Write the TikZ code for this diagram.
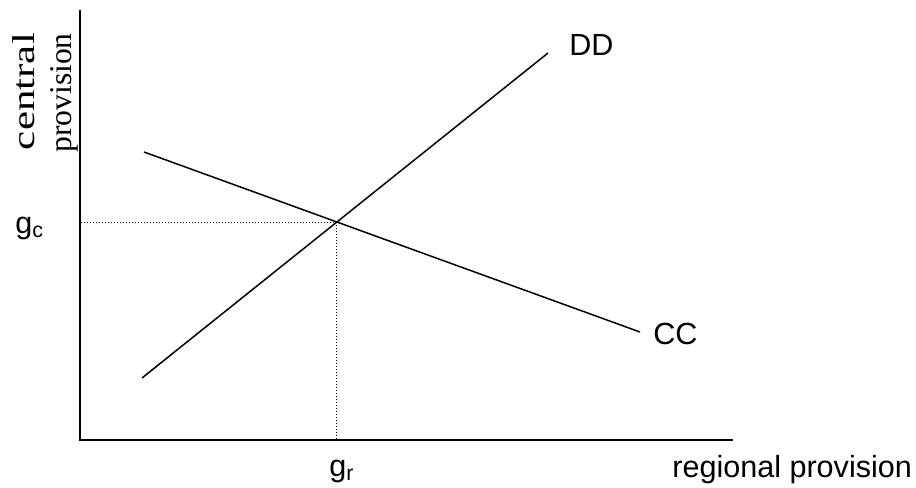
\documentclass[tikz,border=0pt]{standalone}
\usepackage{fontspec}
\setmainfont{Liberation Sans}
\newfontfamily\axisserif{Liberation Serif}
\usetikzlibrary{calc}

\begin{document}
\begin{tikzpicture}[
  x=0.02cm, y=-0.02cm,
  axis/.style={line width=1.1pt},
  curve/.style={line width=0.85pt},
  guide/.style={line width=0.55pt, dash pattern=on 0.02cm off 0.04cm},
  lbl/.style={inner sep=0, font=\fontsize{17.4}{20}\selectfont},
  ylbl/.style={inner sep=0, rotate=90, anchor=base, font=\axisserif\fontsize{18}{21}\selectfont}
]
  \useasboundingbox (0,0) rectangle (916,487);

  % axes
  \coordinate (O) at (80,440);
  \coordinate (ytop) at (80,10);
  \coordinate (xend) at (733,440);
  \draw[axis] (ytop) -- (O) -- (xend);

  % schedules
  \coordinate (dd0) at (142,378);
  \coordinate (dd1) at (548,53);
  \coordinate (cc0) at (144,152);
  \coordinate (cc1) at (640,332);
  \draw[curve] (dd0) -- (dd1);
  \draw[curve] (cc0) -- (cc1);

  % equilibrium
  \coordinate (eq) at (intersection of dd0--dd1 and cc0--cc1);
  \draw[guide] (eq) -- (eq -| O);
  \draw[guide] (eq) -- (eq |- O);

  % labels
  \node[lbl, anchor=base west] (dd) at (569,55) {DD};
  \node[lbl, anchor=base west] (cc) at (653,344) {CC};
  \node[lbl, anchor=base west] (gc) at (15,233) {g\textsubscript{c}};
  \node[lbl, anchor=base west] (gr) at (329,476) {g\textsubscript{r}};
  \node[lbl, anchor=base west] (xlbl) at (672,477) {regional provision};
  \node[ylbl] (ylbl1) at (34,91.5) {\scalebox{1.36}[1]{central}};
  \node[ylbl] (ylbl2) at (71,93) {provision};
\end{tikzpicture}
\end{document}
